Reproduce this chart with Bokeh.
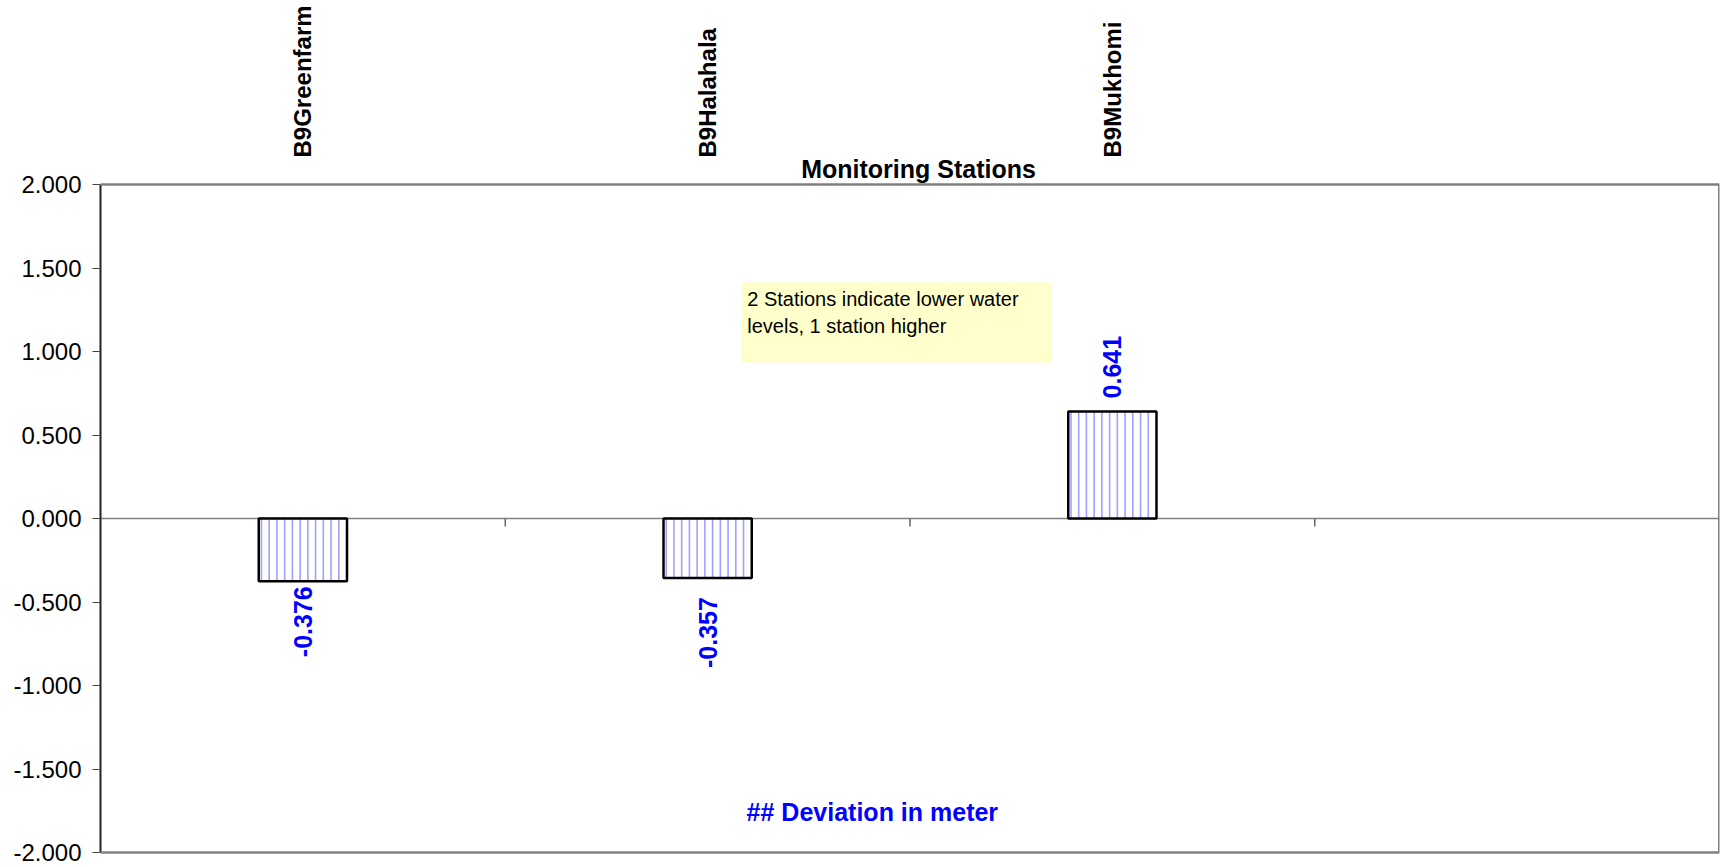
import math
from bokeh.plotting import figure
from bokeh.models import (ColumnDataSource, FactorRange, Range1d, LinearAxis, CategoricalAxis,
                          FixedTicker, NumeralTickFormatter, Label, Span, BoxAnnotation)
from bokeh.core.properties import value
from bokeh.embed import file_html
from bokeh.resources import INLINE

# ---- data ----
stations = ["B9Greenfarm", "B9Halahala", "B9Mukhomi", " "]
deviation = [-0.376, -0.357, 0.641]
value_labels = ["-0.376", "-0.357", "0.641"]
y_ticks = [-2.0, -1.5, -1.0, -0.5, 0.0, 0.5, 1.0, 1.5, 2.0]
title_text = "Monitoring Stations"
note_text = "2 Stations indicate  lower water\nlevels, 1 station higher"
unit_text = "## Deviation in meter"

# ---- style / layout ----
label_gap = [5, 19, 13]          # px between bar end and its value label
FONT = "Liberation Sans"
Y_MIN, Y_MAX = -2.0, 2.0
BAR_W = 0.218
GREY = "#808080"
PX_PER_UNIT = 167.0

p = figure(x_range=FactorRange(factors=stations, range_padding=0),
           y_range=Range1d(Y_MIN - 2 / PX_PER_UNIT, Y_MAX + 36 / PX_PER_UNIT),
           width=1720, height=867, output_backend="svg", toolbar_location=None,
           x_axis_location=None, y_axis_location=None)
p.min_border_left = 100
p.min_border_right = 1
p.min_border_top = 148
p.min_border_bottom = 13
p.background_fill_color = "white"
p.border_fill_color = "white"
p.outline_line_color = None
p.xgrid.visible = False
p.ygrid.visible = False

# y axis
yax = LinearAxis(ticker=FixedTicker(ticks=y_ticks),
                 formatter=NumeralTickFormatter(format="0.000"),
                 bounds=(Y_MIN, Y_MAX))
yax.axis_line_color = "#222222"
yax.axis_line_width = 2
yax.major_tick_out = 8
yax.major_tick_in = 0
yax.major_tick_line_color = "#444444"
yax.minor_tick_line_color = None
yax.major_label_standoff = 11
yax.major_label_text_font = FONT
yax.major_label_text_font_size = "24px"
yax.major_label_text_color = "black"
p.add_layout(yax, "left")

# category labels on top
xax = CategoricalAxis()
xax.axis_line_color = None
xax.major_tick_line_color = None
xax.minor_tick_line_color = None
xax.major_label_orientation = math.pi / 2
xax.major_label_standoff = -15
xax.major_label_text_font = FONT
xax.major_label_text_font_style = "bold"
xax.major_label_text_font_size = "24px"
xax.major_label_text_color = "black"
p.add_layout(xax, "above")

n = len(stations)

# plot-area border (top, right, bottom)
p.add_layout(Span(location=Y_MAX, dimension="width", line_color=GREY, line_width=2.5))
p.add_layout(Span(location=Y_MIN, dimension="width", line_color=GREY, line_width=2.5))
p.segment(x0=[n], y0=[Y_MIN], x1=[n], y1=[Y_MAX], line_color=GREY, line_width=3)

# zero line
p.segment(x0=[0], y0=[0], x1=[n], y1=[0], line_color=GREY, line_width=1.5)

# category boundary ticks on the zero line
bx = list(range(1, n))
tick_len = 8 / PX_PER_UNIT
p.segment(x0=bx, y0=[0] * len(bx), x1=bx, y1=[-tick_len] * len(bx),
          line_color="#666666", line_width=1.5)

# bars: white fill, light-blue vertical stripes, black outline
src = ColumnDataSource(dict(x=stations[:3], top=deviation, lab=value_labels,
                            off=[g if v < 0 else -g for g, v in zip(label_gap, deviation)],
                            align=["right" if v < 0 else "left" for v in deviation]))
p.vbar(x="x", top="top", bottom=0, width=BAR_W, source=src,
       fill_color="white", line_color=None)

step = 0.0191
sx, sy0, sy1 = [], [], []
for i, v in enumerate(deviation):
    left = i + 0.5 - BAR_W / 2
    k = 0
    while left + 0.0067 + k * step < i + 0.5 + BAR_W / 2 - 0.004:
        sx.append(left + 0.0067 + k * step)
        sy0.append(0)
        sy1.append(v)
        k += 1
p.segment(x0=sx, y0=sy0, x1=sx, y1=sy1, line_color="#a0a0ff", line_width=1.6)

p.vbar(x="x", top="top", bottom=0, width=BAR_W, source=src,
       fill_color=None, line_color="black", line_width=2.5)

p.text(x="x", y="top", text="lab", source=src, angle=math.pi / 2,
       y_offset="off", text_align="align", text_baseline="middle",
       text_font=value(FONT), text_font_style="bold", text_font_size="25px",
       text_color="#0000ff")

# note box
p.add_layout(BoxAnnotation(left=1.584, right=2.350, top=1.413, bottom=0.934,
                           fill_color="#ffffcc", fill_alpha=1.0, line_color=None, level="underlay"))
p.add_layout(Label(x=1.598, y=1.383, text=note_text, text_align="left", text_baseline="top",
                   text_font=FONT, text_font_size="20px", text_color="black",
                   text_line_height=1.25))

# title just above plot area
p.add_layout(Label(x=2.021, y=Y_MAX, y_offset=16, text=title_text, text_align="center",
                   text_baseline="alphabetic", text_font=FONT, text_font_style="bold",
                   text_font_size="25px", text_color="black"))

# unit note
p.add_layout(Label(x=1.907, y=-1.760, text=unit_text, text_align="center",
                   text_baseline="alphabetic", text_font=FONT, text_font_style="bold",
                   text_font_size="25px", text_color="#0000ff"))

open("out.html", "w").write(file_html(p, INLINE))
